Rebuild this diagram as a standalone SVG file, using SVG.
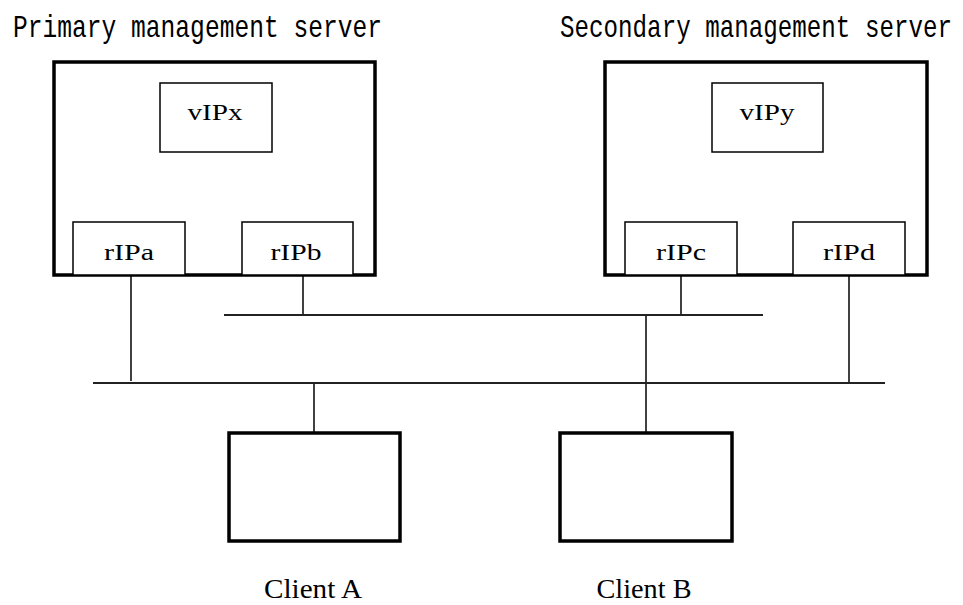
<svg xmlns="http://www.w3.org/2000/svg" width="963" height="605" viewBox="0 0 963 605">
<style>
.bg{fill:#ffffff}
.outer{fill:#ffffff;stroke:#000;stroke-width:3.5}
.inner{fill:#ffffff;stroke:#000;stroke-width:1.5}
.client{fill:#ffffff;stroke:#000;stroke-width:3.5}
.wire{stroke:#111;stroke-width:1.6;fill:none}
.bus{stroke:#222;stroke-width:2;fill:none}
.title{font-family:"Liberation Mono","DejaVu Sans Mono",monospace;font-size:24px;fill:#000}
.lbl{font-family:"Liberation Serif","DejaVu Serif",serif;font-size:24px;fill:#000;text-anchor:middle}
.clbl{font-family:"Liberation Serif","DejaVu Serif",serif;font-size:27px;fill:#000;text-anchor:middle}
</style>
<rect class="bg" x="0" y="0" width="963" height="605"/>
<g id="connectors">
<line class="wire" x1="131" y1="275" x2="131" y2="381"/>
<line class="wire" x1="303" y1="275" x2="303" y2="315"/>
<line class="wire" x1="681" y1="275" x2="681" y2="315"/>
<line class="wire" x1="849" y1="275" x2="849" y2="383"/>
<line class="wire" x1="646" y1="315" x2="646" y2="433"/>
<line class="wire" x1="314" y1="383" x2="314" y2="433"/>
<line class="bus" x1="224" y1="315" x2="763" y2="315"/>
<line class="bus" x1="93" y1="383" x2="885" y2="383"/>
</g>
<g id="primary-server">
<text class="title" transform="translate(13,37) scale(1,1.3)" x="0" y="0" textLength="369" lengthAdjust="spacingAndGlyphs">Primary management server</text>
<rect class="outer" x="54" y="62" width="321" height="213"/>
</g>
<g id="vIPx">
<rect class="inner" x="160" y="83" width="112" height="69"/>
<text class="lbl" x="215" y="120" textLength="55" lengthAdjust="spacingAndGlyphs">vIPx</text>
</g>
<g id="rIPa">
<rect class="inner" x="73" y="222" width="112" height="53"/>
<text class="lbl" x="129" y="260" textLength="50" lengthAdjust="spacingAndGlyphs">rIPa</text>
</g>
<g id="rIPb">
<rect class="inner" x="242" y="222" width="111" height="53"/>
<text class="lbl" x="296" y="260" textLength="51" lengthAdjust="spacingAndGlyphs">rIPb</text>
</g>
<g id="secondary-server">
<text class="title" transform="translate(560,37) scale(1,1.3)" x="0" y="0" textLength="392" lengthAdjust="spacingAndGlyphs">Secondary management server</text>
<rect class="outer" x="605" y="62" width="322" height="213"/>
</g>
<g id="vIPy">
<rect class="inner" x="712" y="83" width="111" height="69"/>
<text class="lbl" x="767" y="120" textLength="55" lengthAdjust="spacingAndGlyphs">vIPy</text>
</g>
<g id="rIPc">
<rect class="inner" x="625" y="222" width="112" height="53"/>
<text class="lbl" x="681" y="260" textLength="50" lengthAdjust="spacingAndGlyphs">rIPc</text>
</g>
<g id="rIPd">
<rect class="inner" x="793" y="222" width="112" height="53"/>
<text class="lbl" x="849" y="260" textLength="52" lengthAdjust="spacingAndGlyphs">rIPd</text>
</g>
<g id="client-a">
<rect class="client" x="229" y="433" width="171" height="108"/>
<text class="clbl" x="313" y="598" textLength="98" lengthAdjust="spacingAndGlyphs">Client A</text>
</g>
<g id="client-b">
<rect class="client" x="560" y="433" width="172" height="108"/>
<text class="clbl" x="644" y="598" textLength="95" lengthAdjust="spacingAndGlyphs">Client B</text>
</g>
</svg>
